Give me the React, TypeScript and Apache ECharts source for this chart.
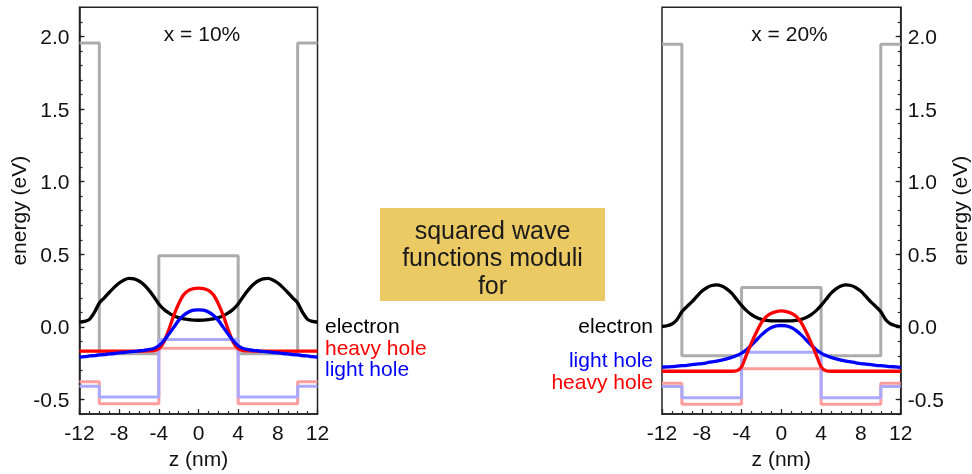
import React, { useEffect, useRef } from "react";
import * as echarts from "echarts";

const FONT = '"Liberation Sans", Arial, Helvetica, sans-serif';

const energyTicks = [-0.5, 0, 0.5, 1.0, 1.5, 2.0];
const zEdges = [-12, -10, -4, 4, 10, 12];

// band profiles (one level per region between zEdges)
const cb10 = [1.955, -0.185, 0.49, -0.185, 1.955];
const lhBand10 = [-0.408, -0.483, -0.087, -0.483, -0.408];
const hhBand10 = [-0.378, -0.528, -0.146, -0.528, -0.378];
const cb20 = [1.945, -0.198, 0.272, -0.198, 1.945];
const lhBand20 = [-0.41, -0.487, -0.175, -0.487, -0.41];
const hhBand20 = [-0.388, -0.532, -0.287, -0.532, -0.388];

const zWave = [-12, -11.5, -11, -10.5, -10, -9.5, -9, -8.5, -8, -7.5, -7, -6.5, -6, -5.5, -5, -4.5, -4, -3.5, -3, -2.5, -2, -1.5, -1, -0.5, 0,
  0.5, 1, 1.5, 2, 2.5, 3, 3.5, 4, 4.5, 5, 5.5, 6, 6.5, 7, 7.5, 8, 8.5, 9, 9.5, 10, 10.5, 11, 11.5, 12];

const electron10 = [0.033, 0.038, 0.052, 0.1, 0.165, 0.2, 0.237, 0.272, 0.302, 0.323, 0.334, 0.331, 0.316, 0.29, 0.253, 0.208, 0.158, 0.122, 0.096, 0.077, 0.064, 0.055, 0.05, 0.047, 0.046,
  0.047, 0.05, 0.055, 0.064, 0.077, 0.096, 0.122, 0.158, 0.208, 0.253, 0.29, 0.316, 0.331, 0.334, 0.323, 0.302, 0.272, 0.237, 0.2, 0.165, 0.1, 0.052, 0.038, 0.033];
const heavy10 = [-0.166, -0.166, -0.166, -0.166, -0.166, -0.166, -0.166, -0.166, -0.166, -0.166, -0.166, -0.166, -0.166, -0.166, -0.165, -0.163, -0.15, -0.105, -0.02, 0.078, 0.16, 0.222, 0.252, 0.264, 0.267,
  0.264, 0.252, 0.222, 0.16, 0.078, -0.02, -0.105, -0.15, -0.163, -0.165, -0.166, -0.166, -0.166, -0.166, -0.166, -0.166, -0.166, -0.166, -0.166, -0.166, -0.166, -0.166, -0.166, -0.166];
const light10 = [-0.208, -0.205, -0.2, -0.197, -0.193, -0.19, -0.186, -0.183, -0.179, -0.176, -0.172, -0.169, -0.165, -0.161, -0.156, -0.148, -0.13, -0.095, -0.05, -0.003, 0.045, 0.08, 0.103, 0.115, 0.118,
  0.115, 0.103, 0.08, 0.045, -0.003, -0.05, -0.095, -0.13, -0.148, -0.156, -0.161, -0.165, -0.169, -0.172, -0.176, -0.179, -0.183, -0.186, -0.19, -0.193, -0.197, -0.2, -0.205, -0.208];

const electron20 = [0.003, 0.008, 0.02, 0.05, 0.105, 0.14, 0.172, 0.21, 0.245, 0.27, 0.285, 0.29, 0.282, 0.262, 0.232, 0.19, 0.148, 0.112, 0.085, 0.065, 0.052, 0.045, 0.042, 0.041, 0.041,
  0.041, 0.042, 0.045, 0.052, 0.065, 0.085, 0.112, 0.148, 0.19, 0.232, 0.262, 0.282, 0.29, 0.285, 0.27, 0.245, 0.21, 0.172, 0.14, 0.105, 0.05, 0.02, 0.008, 0.0];
const heavy20 = [-0.305, -0.305, -0.305, -0.305, -0.305, -0.305, -0.305, -0.305, -0.305, -0.305, -0.305, -0.305, -0.305, -0.305, -0.305, -0.302, -0.275, -0.19, -0.11, -0.035, 0.03, 0.072, 0.094, 0.106, 0.11,
  0.106, 0.094, 0.072, 0.03, -0.035, -0.11, -0.19, -0.275, -0.302, -0.305, -0.305, -0.305, -0.305, -0.305, -0.305, -0.305, -0.305, -0.305, -0.305, -0.305, -0.305, -0.305, -0.305, -0.305];
const light20 = [-0.277, -0.275, -0.273, -0.27, -0.267, -0.264, -0.26, -0.256, -0.252, -0.247, -0.241, -0.235, -0.228, -0.22, -0.21, -0.197, -0.18, -0.157, -0.125, -0.09, -0.055, -0.025, -0.004, 0.007, 0.01,
  0.007, -0.004, -0.025, -0.055, -0.09, -0.125, -0.157, -0.18, -0.197, -0.21, -0.22, -0.228, -0.235, -0.241, -0.247, -0.252, -0.256, -0.26, -0.264, -0.267, -0.27, -0.273, -0.275, -0.278];

const minorEnergy = [-0.6, -0.5, -0.4, -0.3, -0.2, -0.1, 0, 0.1, 0.2, 0.3, 0.4, 0.5, 0.6, 0.7, 0.8, 0.9, 1.0, 1.1, 1.2, 1.3, 1.4, 1.5, 1.6, 1.7, 1.8, 1.9, 2.0, 2.1];

function stepPoints(levels: number[]) {
  const pts: number[][] = [];
  for (let i = 0; i < levels.length; i++) {
    pts.push([zEdges[i], levels[i]], [zEdges[i + 1], levels[i]]);
  }
  return pts;
}
function wave(vals: number[]) {
  return zWave.map((z, i) => [z, vals[i]]);
}

const AX = "#222";
const TXT = "#111";

function xAx(gridIndex: number) {
  return {
    type: "value", gridIndex, min: -12, max: 12, interval: 4, position: "bottom",
    axisLine: { show: true, onZero: false, lineStyle: { color: AX, width: 1.5 } },
    axisTick: { show: true, inside: true, length: 5, lineStyle: { color: AX, width: 1.3 } },
    minorTick: { show: true, splitNumber: 4, length: 3, lineStyle: { color: AX, width: 1.2 } },
    axisLabel: { fontSize: 21, fontFamily: FONT, color: TXT, margin: 8 },
    splitLine: { show: false }, minorSplitLine: { show: false },
    name: "z (nm)", nameLocation: "middle", nameGap: 30,
    nameTextStyle: { fontSize: 21, fontFamily: FONT, color: TXT },
  };
}
function yMain(gridIndex: number, pos: string, gap: number, margin: number) {
  return {
    type: "value", gridIndex, min: -0.6, max: 2.2, position: pos,
    axisLine: { show: true, onZero: false, lineStyle: { color: AX, width: 1.5 } },
    axisTick: { show: true, inside: true, length: 5, customValues: energyTicks, lineStyle: { color: AX, width: 1.3 } },
    axisLabel: { customValues: energyTicks, formatter: (v: number) => v.toFixed(1), fontSize: 21, fontFamily: FONT, color: TXT, margin },
    splitLine: { show: false },
    name: "energy (eV)", nameLocation: "middle", nameGap: gap, nameRotate: 90,
    nameTextStyle: { fontSize: 21, fontFamily: FONT, color: TXT },
  };
}
function yMinor(gridIndex: number, pos: string) {
  return {
    type: "value", gridIndex, min: -0.6, max: 2.2, position: pos,
    axisLine: { show: false, onZero: false },
    axisTick: { show: true, inside: true, length: 3, customValues: minorEnergy, lineStyle: { color: AX, width: 1.2 } },
    axisLabel: { show: false },
    splitLine: { show: false },
  };
}

function line(data: number[][], color: string, xi: number, yi: number, smooth: boolean | number, z: number, width = 3.3) {
  return {
    type: "line", data, xAxisIndex: xi, yAxisIndex: yi, showSymbol: false, symbol: "none",
    smooth, lineStyle: { color, width }, z, silent: true,
  };
}

export default function App() {
  const ref = useRef<HTMLDivElement>(null);
  useEffect(() => {
    if (!ref.current) return;
    const chart = echarts.init(ref.current, null, { renderer: "svg" });
    const txt = (text: string, x: number, y: number, fill: string, align: string, size = 21) => ({
      type: "text", x, y, z: 100,
      style: { text, fill, fontSize: size, fontFamily: FONT, align, verticalAlign: "middle" },
    });
    chart.setOption({
      animation: false,
      grid: [
        { left: 79.5, top: 7.3, width: 238, height: 409.4, show: true, borderColor: AX, borderWidth: 1.5, containLabel: false },
        { left: 662, top: 7.3, width: 238.7, height: 409.4, show: true, borderColor: AX, borderWidth: 1.5, containLabel: false },
      ],
      xAxis: [xAx(0), xAx(1)],
      yAxis: [yMain(0, "left", 36, 10), yMinor(0, "left"), yMain(1, "right", 48, 7), yMinor(1, "right")],
      series: [
        line(stepPoints(cb10), "#ababab", 0, 0, false, 2, 3),
        line(stepPoints(hhBand10), "#ff9d9d", 0, 0, false, 3, 3),
        line(stepPoints(lhBand10), "#a9a9ff", 0, 0, false, 4, 3),
        line(wave(electron10), "#000000", 0, 0, 0.3, 5),
        line(wave(heavy10), "#ff0000", 0, 0, 0.3, 6),
        line(wave(light10), "#0000ff", 0, 0, 0.3, 7),
        line(stepPoints(cb20), "#ababab", 1, 2, false, 2, 3),
        line(stepPoints(hhBand20), "#ff9d9d", 1, 2, false, 3, 3),
        line(stepPoints(lhBand20), "#a9a9ff", 1, 2, false, 4, 3),
        line(wave(electron20), "#000000", 1, 2, 0.3, 5),
        line(wave(light20), "#0000ff", 1, 2, 0.3, 6),
        line(wave(heavy20), "#ff0000", 1, 2, 0.3, 7),
      ],
      graphic: [
        txt("x = 10%", 202, 33, TXT, "center"),
        txt("x = 20%", 789.5, 33, TXT, "center"),
        txt("electron", 325, 325, "#000000", "left"),
        txt("heavy hole", 325, 347, "#ff0000", "left"),
        txt("light hole", 325, 368, "#0000ff", "left"),
        txt("electron", 653, 325, "#000000", "right"),
        txt("light hole", 653, 359.5, "#0000ff", "right"),
        txt("heavy hole", 653, 381.5, "#ff0000", "right"),
        { type: "rect", shape: { x: 380, y: 208, width: 225, height: 93 }, style: { fill: "#ebc963" }, z: 90 },
        {
          type: "text", x: 492.5, y: 257, z: 100,
          style: { text: "squared wave\nfunctions moduli\nfor", fill: "#1a1a1a", fontSize: 25, lineHeight: 27.5, fontFamily: FONT, align: "center", verticalAlign: "middle" },
        },
      ],
    });
    return () => chart.dispose();
  }, []);
  return <div ref={ref} style={{ position: "fixed", left: 0, top: 0, width: 972, height: 474 }} />;
}
